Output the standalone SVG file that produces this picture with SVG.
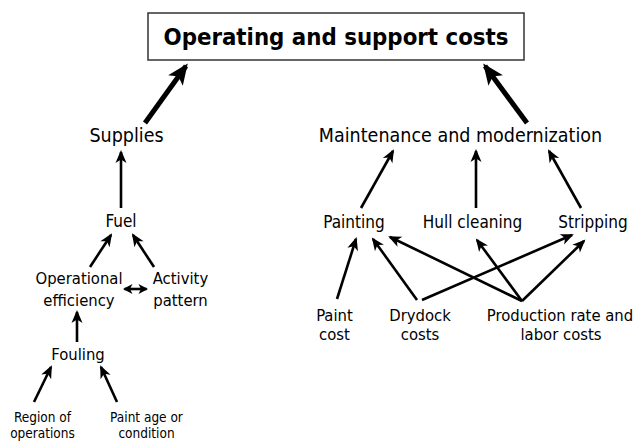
<svg xmlns="http://www.w3.org/2000/svg" width="634" height="442" viewBox="0 0 634 442">
<defs>
<style>
text{font-family:"DejaVu Sans Condensed","DejaVu Sans",sans-serif;font-stretch:condensed;fill:#000;text-anchor:middle}
.t{font-weight:bold;font-size:23.5px}
.l{font-size:19.5px}
.m{font-size:17px}
.s{font-size:16.5px}
.xs{font-size:13.5px}
.c line{stroke:#000;stroke-width:2.6;fill:none;marker-end:url(#ah)}
.c line.k{stroke-width:5;marker-end:url(#ahk)}
.c line.d{marker-start:url(#ahs);marker-end:url(#ahs)}
</style>
<marker id="ah" markerUnits="userSpaceOnUse" viewBox="-13 -7 16 14" markerWidth="16" markerHeight="14" refX="0" refY="0" orient="auto">
<path d="M2,0 L-11,-5.5 L-7.5,0 L-11,5.5 Z" fill="#000"/>
</marker>
<marker id="ahs" markerUnits="userSpaceOnUse" viewBox="-10 -6 12 12" markerWidth="12" markerHeight="12" refX="0" refY="0" orient="auto-start-reverse">
<path d="M1.5,0 L-8,-5 L-5.5,0 L-8,5 Z" fill="#000"/>
</marker>
<marker id="ahk" markerUnits="userSpaceOnUse" viewBox="-22 -11 26 22" markerWidth="26" markerHeight="22" refX="0" refY="0" orient="auto">
<path d="M3,0 L-18,-9 L-13,0 L-18,9 Z" fill="#000"/>
</marker>
</defs>
<rect width="634" height="442" fill="#fff"/>
<g id="connectors" class="c">
<line class="k" x1="145" y1="123" x2="186" y2="66"/>
<line class="k" x1="527" y1="123" x2="485" y2="66"/>
<line x1="121" y1="208" x2="121" y2="152"/>
<line x1="90" y1="267" x2="111" y2="235"/>
<line x1="154" y1="267" x2="133" y2="235"/>
<line class="d" x1="124.5" y1="289" x2="146.5" y2="289"/>
<line x1="77" y1="342" x2="77" y2="312"/>
<line x1="34" y1="402" x2="51" y2="367"/>
<line x1="117" y1="402" x2="101" y2="367"/>
<line x1="361" y1="208" x2="393" y2="151"/>
<line x1="476" y1="208" x2="476" y2="151"/>
<line x1="581" y1="208" x2="549" y2="151"/>
<line x1="337" y1="299" x2="356" y2="239"/>
<line x1="417" y1="300" x2="373" y2="239"/>
<line x1="422" y1="300" x2="572" y2="235"/>
<line x1="522" y1="301" x2="390" y2="237"/>
<line x1="522" y1="301" x2="477" y2="240"/>
<line x1="522" y1="301" x2="584" y2="241"/>
</g>
<g id="n-costs">
<rect x="148" y="13" width="376" height="47" fill="#fff" stroke="#333" stroke-width="1.5"/>
<text class="t" x="336" y="45" textLength="345" lengthAdjust="spacingAndGlyphs">Operating and support costs</text>
</g>
<g id="n-supplies"><text class="l" x="126.5" y="142">Supplies</text></g>
<g id="n-maintenance"><text class="l" x="460.5" y="142">Maintenance and modernization</text></g>
<g id="n-fuel"><text class="m" x="121" y="227">Fuel</text></g>
<g id="n-operational"><text class="s" x="79" y="284">Operational</text><text class="s" x="79" y="306">efficiency</text></g>
<g id="n-activity"><text class="s" x="180.5" y="284">Activity</text><text class="s" x="180.5" y="306">pattern</text></g>
<g id="n-fouling"><text class="s" x="78" y="360">Fouling</text></g>
<g id="n-region"><text class="xs" x="42.5" y="422">Region of</text><text class="xs" x="42.5" y="438">operations</text></g>
<g id="n-paintage"><text class="xs" x="146.5" y="422">Paint age or</text><text class="xs" x="146.5" y="438">condition</text></g>
<g id="n-painting"><text class="m" x="354" y="228">Painting</text></g>
<g id="n-hull"><text class="m" x="472.5" y="228">Hull cleaning</text></g>
<g id="n-stripping"><text class="m" x="593" y="228">Stripping</text></g>
<g id="n-paintcost"><text class="s" x="334.5" y="321">Paint</text><text class="s" x="334.5" y="340">cost</text></g>
<g id="n-drydock"><text class="s" x="420" y="321">Drydock</text><text class="s" x="420" y="340">costs</text></g>
<g id="n-production"><text class="s" x="560" y="321">Production rate and</text><text class="s" x="561" y="340">labor costs</text></g>
</svg>
